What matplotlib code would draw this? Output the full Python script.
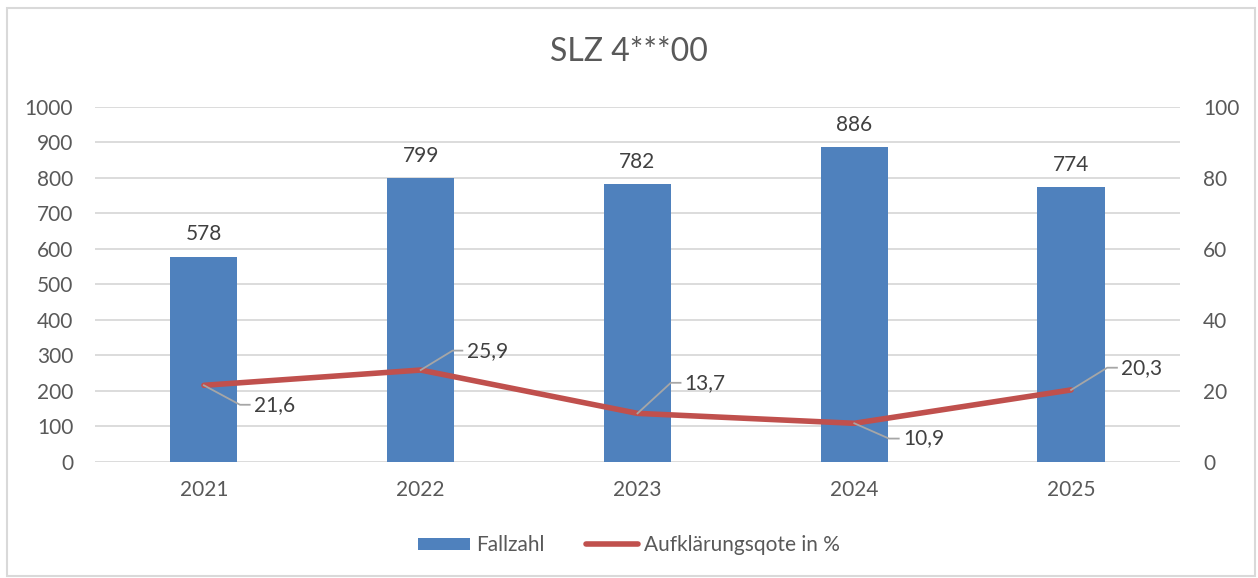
import matplotlib
matplotlib.use("Agg")
import matplotlib.pyplot as plt
from matplotlib.patches import Rectangle
from matplotlib.transforms import ScaledTranslation

plt.rcParams['font.family'] = ['Lato', 'DejaVu Sans']

# daten
jahre = ["2021", "2022", "2023", "2024", "2025"]
fallzahl = [578, 799, 782, 886, 774]
quote = [21.6, 25.9, 13.7, 10.9, 20.3]
quote_text = ["21,6", "25,9", "13,7", "10,9", "20,3"]

# knick der führungslinie (offset in pt)
lbl_pos = [(26, -14), (23, 14), (24, 22), (25, -11), (26, 16)]

blau = "#4F81BD"
rot = "#C0504D"
grau_text = "#595959"
grau_grid = "#D9D9D9"
grau_leader = "#A6A6A6"

fig = plt.figure(figsize=(12.58, 5.78), dpi=100)
ax = fig.add_axes([0.0759, 0.2007, 0.8617, 0.6142])
ax2 = ax.twinx()

x = list(range(len(jahre)))
bars = ax.bar(x, fallzahl, width=0.31, color=blau, label="Fallzahl", zorder=2)
ax.set_ylim(0, 1000)
ax.set_xlim(-0.5, len(jahre) - 0.5)
ax.set_yticks(range(0, 1001, 100))
ax.yaxis.grid(True, color=grau_grid, linewidth=1.3, zorder=0)
ax.set_axisbelow(True)
ax.set_xticks(x)
ax.set_xticklabels(jahre)
ax.tick_params(axis="both", length=0, labelsize=15, labelcolor=grau_text)
ax.tick_params(axis="y", pad=16)
ax.tick_params(axis="x", pad=13)
for s in ax.spines.values():
    s.set_visible(False)

for xi, v in zip(x, fallzahl):
    ax.annotate(str(v), (xi, v), xytext=(0, 9), textcoords="offset points",
                ha="center", va="bottom", fontsize=15, color="#404040")

ln, = ax2.plot(x, quote, color=rot, linewidth=4, solid_capstyle="round",
               label="Aufklärungsqote in %", zorder=3)
ax2.set_ylim(0, 100)
ax2.set_yticks(range(0, 101, 20))
ax2.tick_params(axis="y", length=0, labelsize=15, labelcolor=grau_text, pad=17)
for s in ax2.spines.values():
    s.set_visible(False)

for xi, v, t, (dx, dy) in zip(x, quote, quote_text, lbl_pos):
    tr = fig.dpi_scale_trans + ScaledTranslation(xi, v, ax2.transData)
    ax2.plot([0, dx / 72, (dx + 7) / 72], [0, dy / 72, dy / 72], transform=tr,
             color=grau_leader, linewidth=1.3, zorder=4)
    ax2.annotate(t, (xi, v), xytext=(dx + 10, dy), textcoords="offset points",
                 ha="left", va="center", fontsize=15, color="#404040")

fig.text(0.5, 0.91, "SLZ 4***00", ha="center", va="center", fontsize=23, color=grau_text)

fig.legend([bars, ln], ["Fallzahl", "Aufklärungsqote in %"], loc="center",
           bbox_to_anchor=(0.5, 0.057), ncol=2, frameon=False, fontsize=15,
           labelcolor=grau_text, handlelength=2.5, handleheight=0.5,
           handletextpad=0.3, columnspacing=2.0)

fig.add_artist(Rectangle((0.0056, 0.003), 0.9917, 0.983, transform=fig.transFigure,
                         fill=False, edgecolor=grau_grid, linewidth=1.5))

fig.savefig("out.png", dpi=100)
